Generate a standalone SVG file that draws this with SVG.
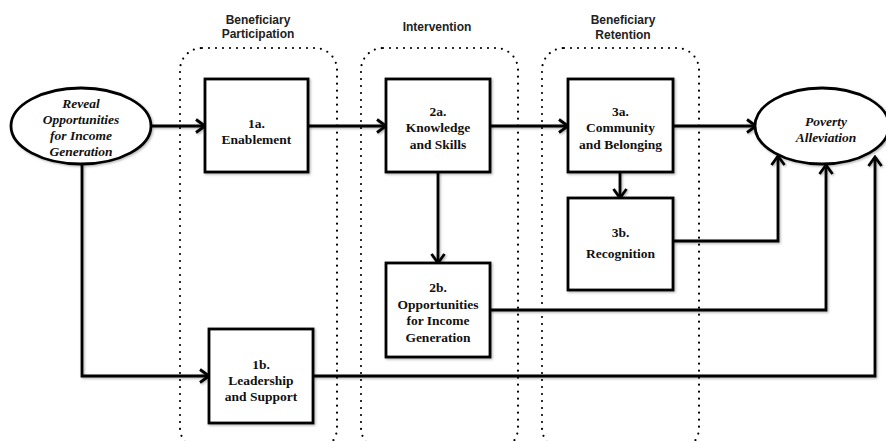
<svg xmlns="http://www.w3.org/2000/svg" width="886" height="441" viewBox="0 0 886 441">
  <style>
    .zone { fill: none; stroke: #000; stroke-width: 2.2; stroke-dasharray: 0 7; stroke-linecap: round; }
    .box { fill: #fff; stroke: #000; stroke-width: 2.8; filter: url(#shadow); }
    .oval { fill: #fff; stroke: #000; stroke-width: 2.8; filter: url(#shadow); }
    .wire { fill: none; stroke: #000; stroke-width: 2.8; }
    .arrow { marker-end: url(#chevron); }
    .lbl { font-family: "Liberation Serif", "Times New Roman", serif; font-weight: bold; font-size: 13.5px; text-anchor: middle; fill: #111; }
    .it { font-style: italic; }
    .head { font-family: "Liberation Sans", Arial, sans-serif; font-weight: bold; font-size: 12px; text-anchor: middle; fill: #222; }
  </style>
  <defs>
    <filter id="shadow" filterUnits="userSpaceOnUse" x="0" y="0" width="886" height="441">
      <feDropShadow dx="1.2" dy="1.2" stdDeviation="0.8" flood-color="#000" flood-opacity="0.3"/>
    </filter>
    <marker id="chevron" markerUnits="userSpaceOnUse" markerWidth="14" markerHeight="16" viewBox="0 0 14 16" refX="12" refY="8" orient="auto">
      <path d="M3,1.5 L12,8 L3,14.5" fill="none" stroke="#000" stroke-width="2.8" stroke-linejoin="miter"/>
    </marker>
  </defs>

  <rect width="886" height="441" fill="#fff"/>

  <!-- stage zones -->
  <g id="zones">
    <rect class="zone" x="180" y="48" width="157" height="402" rx="22" ry="22"/>
    <rect class="zone" x="361" y="48" width="157" height="402" rx="22" ry="22"/>
    <rect class="zone" x="542" y="48" width="157" height="402" rx="22" ry="22"/>
  </g>

  <g id="headers">
    <text class="head" x="258" y="24">Beneficiary</text>
    <text class="head" x="258" y="38">Participation</text>
    <text class="head" x="437" y="31">Intervention</text>
    <text class="head" x="623" y="24">Beneficiary</text>
    <text class="head" x="623" y="39">Retention</text>
  </g>

  <!-- connectors -->
  <g id="connectors" filter="url(#shadow)">
    <line class="wire arrow" x1="152" y1="126" x2="205" y2="126"/>
    <line class="wire arrow" x1="308" y1="126" x2="386" y2="126"/>
    <line class="wire arrow" x1="490" y1="126" x2="568" y2="126"/>
    <line class="wire arrow" x1="673" y1="126" x2="756" y2="126"/>
    <line class="wire arrow" x1="438" y1="172" x2="438" y2="263"/>
    <line class="wire arrow" x1="620" y1="172" x2="620" y2="198"/>
    <polyline class="wire arrow" points="673,241 778,241 778,156"/>
    <polyline class="wire arrow" points="490,310 826,310 826,165"/>
    <polyline class="wire arrow" points="82,164 82,376 209,376"/>
    <polyline class="wire arrow" points="313,376 875,376 875,157"/>
  </g>

  <g id="reveal">
    <ellipse class="oval" cx="81" cy="126" rx="70" ry="38"/>
    <text class="lbl it" x="81" y="108">Reveal</text>
    <text class="lbl it" x="81" y="124">Opportunities</text>
    <text class="lbl it" x="81" y="140">for Income</text>
    <text class="lbl it" x="81" y="156">Generation</text>
  </g>

  <g id="n1a">
    <rect class="box" x="205" y="79" width="103" height="93"/>
    <text class="lbl" x="256.5" y="128">1a.</text>
    <text class="lbl" x="256.5" y="144">Enablement</text>
  </g>

  <g id="n1b">
    <rect class="box" x="209" y="329" width="104" height="94"/>
    <text class="lbl" x="261" y="369">1b.</text>
    <text class="lbl" x="261" y="385">Leadership</text>
    <text class="lbl" x="261" y="401">and Support</text>
  </g>

  <g id="n2a">
    <rect class="box" x="386" y="79" width="104" height="93"/>
    <text class="lbl" x="438" y="116">2a.</text>
    <text class="lbl" x="438" y="132">Knowledge</text>
    <text class="lbl" x="438" y="149">and Skills</text>
  </g>

  <g id="n2b">
    <rect class="box" x="386" y="263" width="104" height="94"/>
    <text class="lbl" x="438" y="292">2b.</text>
    <text class="lbl" x="438" y="309">Opportunities</text>
    <text class="lbl" x="438" y="325">for Income</text>
    <text class="lbl" x="438" y="342">Generation</text>
  </g>

  <g id="n3a">
    <rect class="box" x="568" y="79" width="105" height="93"/>
    <text class="lbl" x="620.5" y="116">3a.</text>
    <text class="lbl" x="620.5" y="132">Community</text>
    <text class="lbl" x="620.5" y="149">and Belonging</text>
  </g>

  <g id="n3b">
    <rect class="box" x="568" y="198" width="105" height="92"/>
    <text class="lbl" x="620.5" y="237">3b.</text>
    <text class="lbl" x="620.5" y="258">Recognition</text>
  </g>

  <g id="poverty">
    <ellipse class="oval" cx="822" cy="126" rx="67" ry="38"/>
    <text class="lbl it" x="826" y="126">Poverty</text>
    <text class="lbl it" x="826" y="142">Alleviation</text>
  </g>
</svg>
